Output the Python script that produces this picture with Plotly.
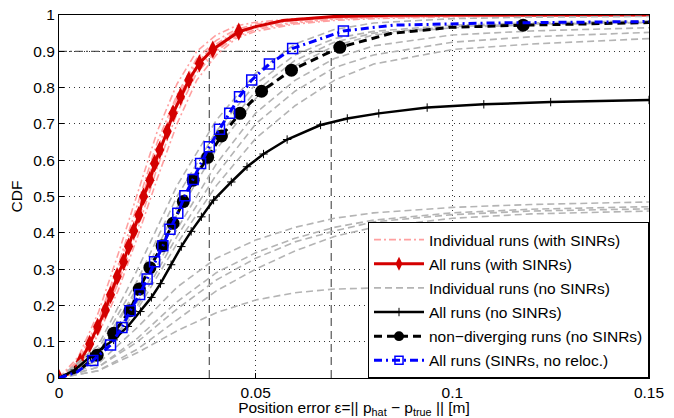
import plotly.graph_objects as go

# ---------------- data ----------------
# Individual runs with SINRs (pink), sampled on a common x grid
pink_x = [0, 0.005, 0.01, 0.015, 0.02, 0.025, 0.03, 0.035, 0.04, 0.045, 0.05, 0.06, 0.07, 0.08, 0.1, 0.15]
pink_runs = [
    [0, 0.06, 0.18, 0.34, 0.51, 0.68, 0.81, 0.90, 0.945, 0.97, 0.98, 0.99, 0.995, 0.997, 0.999, 1.0],
    [0, 0.05, 0.16, 0.31, 0.48, 0.65, 0.78, 0.88, 0.93, 0.96, 0.975, 0.988, 0.993, 0.996, 0.998, 1.0],
    [0, 0.035, 0.13, 0.26, 0.41, 0.58, 0.73, 0.84, 0.90, 0.94, 0.96, 0.978, 0.988, 0.993, 0.997, 1.0],
    [0, 0.03, 0.12, 0.24, 0.39, 0.55, 0.70, 0.82, 0.89, 0.935, 0.955, 0.975, 0.985, 0.99, 0.995, 0.999],
    [0, 0.045, 0.15, 0.30, 0.46, 0.63, 0.77, 0.87, 0.92, 0.955, 0.97, 0.985, 0.992, 0.995, 0.998, 1.0],
    [0, 0.04, 0.14, 0.27, 0.43, 0.60, 0.75, 0.85, 0.905, 0.945, 0.965, 0.98, 0.99, 0.994, 0.997, 1.0],
]

# All runs with SINRs (red diamonds)
red_x = [0, 0.0028, 0.0054, 0.0078, 0.0098, 0.0118, 0.0131, 0.0148, 0.0164, 0.0177, 0.0190, 0.0203,
         0.0215, 0.0231, 0.0243, 0.0256, 0.0275, 0.0290, 0.0309, 0.0330, 0.0357, 0.0391, 0.0457,
         0.050, 0.057, 0.070, 0.085, 0.100, 0.150]
red_y = [0, 0.013, 0.045, 0.094, 0.141, 0.187, 0.229, 0.279, 0.320, 0.362, 0.405, 0.449,
         0.500, 0.545, 0.591, 0.628, 0.679, 0.729, 0.775, 0.821, 0.867, 0.905, 0.954,
         0.968, 0.985, 0.996, 0.999, 1.0, 1.0]

# Individual runs without SINRs (gray)
gray_x = [0, 0.01, 0.02, 0.03, 0.04, 0.05, 0.06, 0.07, 0.08, 0.1, 0.12, 0.15]
gray_runs = [
    [0, 0.08, 0.27, 0.50, 0.68, 0.81, 0.89, 0.935, 0.955, 0.972, 0.978, 0.984],
    [0, 0.07, 0.24, 0.45, 0.63, 0.77, 0.86, 0.915, 0.945, 0.965, 0.973, 0.979],
    [0, 0.06, 0.21, 0.41, 0.59, 0.73, 0.82, 0.88, 0.915, 0.945, 0.956, 0.965],
    [0, 0.05, 0.19, 0.37, 0.53, 0.66, 0.75, 0.82, 0.865, 0.905, 0.92, 0.935],
    [0, 0.09, 0.30, 0.53, 0.71, 0.84, 0.92, 0.96, 0.978, 0.99, 0.994, 0.996],
    [0, 0.05, 0.20, 0.39, 0.56, 0.70, 0.79, 0.855, 0.89, 0.925, 0.94, 0.952],
    [0, 0.07, 0.25, 0.47, 0.66, 0.79, 0.875, 0.925, 0.95, 0.968, 0.975, 0.98],
    [0, 0.03, 0.11, 0.21, 0.29, 0.345, 0.385, 0.415, 0.435, 0.455, 0.465, 0.472],
    [0, 0.04, 0.14, 0.25, 0.33, 0.38, 0.415, 0.44, 0.455, 0.47, 0.478, 0.485],
    [0, 0.02, 0.08, 0.16, 0.24, 0.30, 0.35, 0.39, 0.415, 0.44, 0.452, 0.46],
    [0, 0.03, 0.10, 0.19, 0.27, 0.33, 0.375, 0.405, 0.43, 0.45, 0.46, 0.466],
    [0, 0.02, 0.07, 0.13, 0.18, 0.215, 0.235, 0.245, 0.248, 0.25, 0.25, 0.25],
]

# All runs without SINRs (black solid, plus markers)
all_x = [0, 0.004, 0.008, 0.0139, 0.0175, 0.0207, 0.0235, 0.0258, 0.0285, 0.0311, 0.0336, 0.0362,
         0.0393, 0.0438, 0.0478, 0.052, 0.058, 0.0665, 0.0733, 0.0813, 0.0936, 0.108, 0.125, 0.15]
all_y = [0, 0.022, 0.059, 0.105, 0.142, 0.183, 0.222, 0.260, 0.312, 0.362, 0.404, 0.444,
         0.490, 0.540, 0.582, 0.617, 0.657, 0.697, 0.715, 0.729, 0.745, 0.754, 0.760, 0.766]

# Non-diverging runs without SINRs (black dashed, circles)
ndr_x = [0, 0.005, 0.0097, 0.0139, 0.0180, 0.0204, 0.0231, 0.0262, 0.0290, 0.0316, 0.0341, 0.0378,
         0.0413, 0.0460, 0.0515, 0.0591, 0.0714, 0.0843, 0.0996, 0.118, 0.15]
ndr_y = [0, 0.02, 0.063, 0.123, 0.185, 0.245, 0.304, 0.364, 0.426, 0.486, 0.545, 0.608,
         0.667, 0.729, 0.790, 0.848, 0.911, 0.949, 0.966, 0.972, 0.979]

# All runs with SINRs, no relocalisation (blue squares)
blue_x = [0, 0.0045, 0.0086, 0.0131, 0.0160, 0.0181, 0.0205, 0.0224, 0.0243, 0.0264, 0.0282, 0.0302,
          0.0320, 0.0341, 0.0360, 0.0382, 0.0408, 0.0434, 0.0459, 0.0490, 0.0535, 0.0594, 0.0723,
          0.085, 0.11, 0.15]
blue_y = [0, 0.016, 0.048, 0.091, 0.139, 0.185, 0.230, 0.273, 0.320, 0.364, 0.410, 0.454,
          0.502, 0.547, 0.591, 0.637, 0.685, 0.729, 0.775, 0.821, 0.865, 0.908, 0.956,
          0.972, 0.978, 0.982]

# Reference lines: 90% level and the two error values where it is reached
ref_level = 0.9
ref_x = [0.0382, 0.0692]

legend_names = [
    "Individual runs (with SINRs)",
    "All runs (with SINRs)",
    "Individual runs (no SINRs)",
    "All runs (no SINRs)",
    "non\u2212diverging runs (no SINRs)",
    "All runs (SINRs, no reloc.)",
]

# ---------------- figure ----------------
FONT = "Liberation Sans, Arial, Helvetica, sans-serif"
FS = 15.5
fig = go.Figure()

# reference lines
for xv in ref_x:
    fig.add_trace(go.Scatter(x=[xv, xv], y=[0, ref_level], mode="lines",
                             line=dict(color="#333333", width=1, dash="8px,5px"),
                             showlegend=False, hoverinfo="skip"))
fig.add_trace(go.Scatter(x=[0, max(ref_x)], y=[ref_level, ref_level], mode="lines",
                         line=dict(color="#333333", width=1, dash="8px,3px,2px,3px"),
                         showlegend=False, hoverinfo="skip"))

# pink individual runs
for i, run in enumerate(pink_runs):
    fig.add_trace(go.Scatter(x=pink_x, y=run, mode="lines", name=legend_names[0],
                             legendgroup="g0", showlegend=(i == 0),
                             line=dict(color="#ffa0a0", width=1.6, dash="7px,3px,2px,3px")))

# red all runs
red_bare = {1, 23, 24, 25, 26, 27, 28}
fig.add_trace(go.Scatter(x=red_x, y=red_y, mode="lines+markers", name=legend_names[1],
                         legendgroup="g1",
                         line=dict(color="#d40000", width=3),
                         marker=dict(symbol="diamond-tall", color="#d40000", opacity=1,
                                     line=dict(width=0),
                                     size=[0 if i in red_bare else 13 for i in range(len(red_x))])))

# gray individual runs
for i, run in enumerate(gray_runs):
    fig.add_trace(go.Scatter(x=gray_x, y=run, mode="lines", name=legend_names[2],
                             legendgroup="g2", showlegend=(i == 0),
                             line=dict(color="#b4b4b4", width=1.6, dash="7px,4px")))

# black solid all runs
fig.add_trace(go.Scatter(x=all_x, y=all_y, mode="lines+markers", name=legend_names[3],
                         legendgroup="g3",
                         line=dict(color="black", width=2.5),
                         marker=dict(symbol="cross-thin", size=6, color="black",
                                     line=dict(color="black", width=1))))

# black dashed non-diverging
ndr_bare = {0, 1, 17, 18, 20}
fig.add_trace(go.Scatter(x=ndr_x, y=ndr_y, mode="lines+markers", name=legend_names[4],
                         legendgroup="g4",
                         line=dict(color="black", width=3, dash="8px,5px"),
                         marker=dict(symbol="circle", color="black", opacity=1,
                                     line=dict(width=0, color="black"),
                                     size=[0 if i in ndr_bare else 13 for i in range(len(ndr_x))])))

# blue no reloc
blue_bare = {0, 1, 23, 24, 25}
fig.add_trace(go.Scatter(x=blue_x, y=blue_y, mode="lines+markers", name=legend_names[5],
                         legendgroup="g5",
                         line=dict(color="#0000ff", width=3, dash="8px,4px,2px,4px"),
                         marker=dict(symbol="square-open", color="#0000ff", opacity=1,
                                     line=dict(width=1.5, color="#0000ff"),
                                     size=[0 if i in blue_bare else 10 for i in range(len(blue_x))])))

axis_common = dict(
    showline=True, linecolor="black", linewidth=1, mirror=True,
    ticks="inside", ticklen=5, tickcolor="black",
    showgrid=True, gridcolor="#333333", gridwidth=1, griddash="1px,4px",
    zeroline=False, automargin=False, ticklabeloverflow="allow",
    tickfont=dict(family=FONT, size=FS, color="black"),
)

# page body adds an 8px offset, so the figure is sized/margined to compensate
fig.update_layout(
    width=666, height=410,
    margin=dict(l=51, r=25, t=7, b=40),
    paper_bgcolor="white", plot_bgcolor="white",
    font=dict(family=FONT, size=FS, color="black"),
    xaxis=dict(range=[0, 0.15], tickvals=[0, 0.05, 0.1, 0.15], ticktext=["0", "0.05", "0.1", "0.15"],
               title=dict(text="Position error \u03b5=|| p<sub>hat</sub> \u2212 p<sub>true</sub> || [m]",
                          standoff=0, font=dict(family=FONT, size=FS)),
               **axis_common),
    yaxis=dict(range=[0, 1],
               tickvals=[0, 0.1, 0.2, 0.3, 0.4, 0.5, 0.6, 0.7, 0.8, 0.9, 1],
               ticktext=["0", "0.1", "0.2", "0.3", "0.4", "0.5", "0.6", "0.7", "0.8", "0.9", "1"],
               title=dict(text="CDF", standoff=11, font=dict(family=FONT, size=FS)),
               **axis_common),
    legend=dict(x=1, y=0, xanchor="right", yanchor="bottom",
                bgcolor="white", bordercolor="black", borderwidth=1,
                font=dict(family=FONT, size=FS), itemwidth=50,
                traceorder="grouped", tracegroupgap=1),
    showlegend=True,
)

fig.write_html("out.html")
